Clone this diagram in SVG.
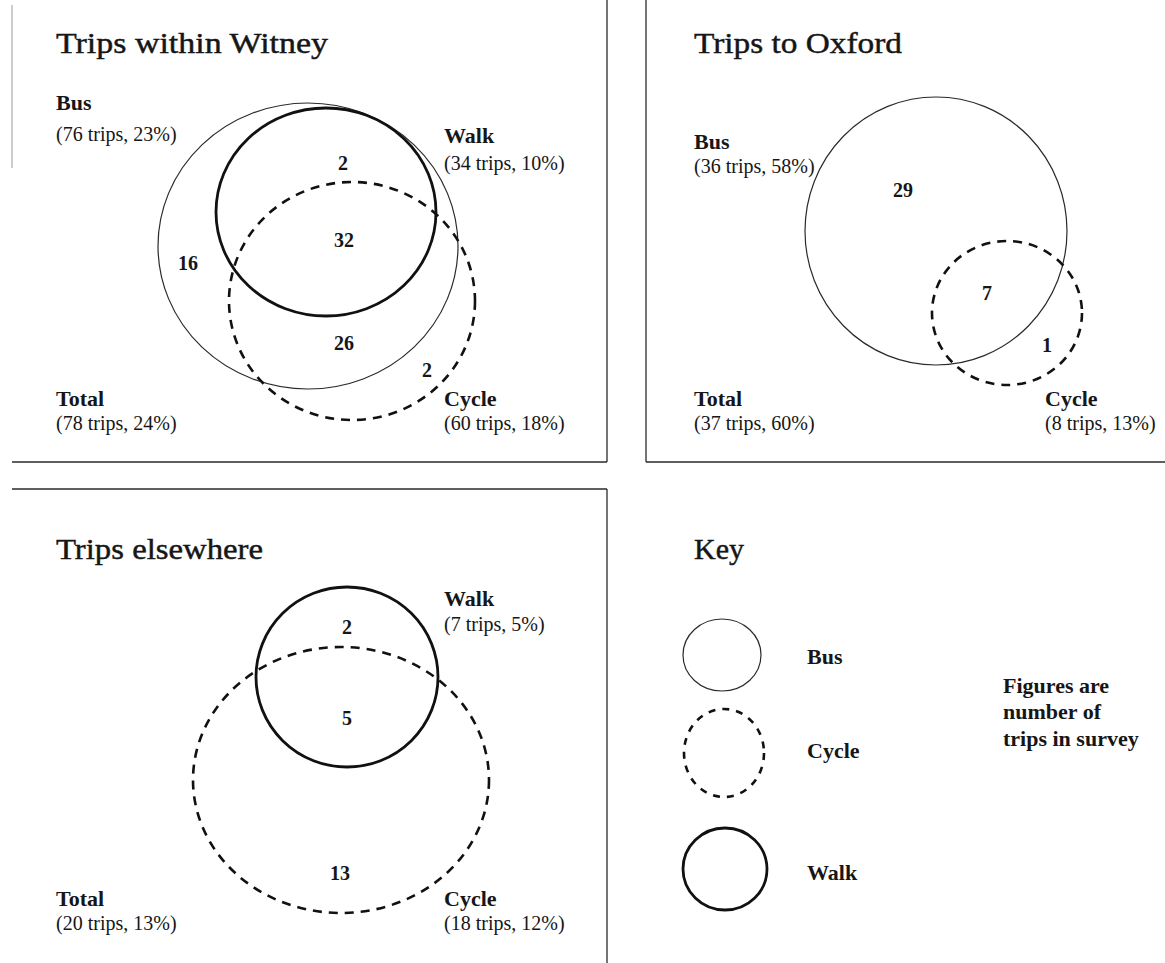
<svg xmlns="http://www.w3.org/2000/svg" width="1165" height="963" viewBox="0 0 1165 963">
  <style>
    text { font-family: "Liberation Serif", "Times New Roman", serif; fill: #161616; }
    .title { font-size: 30px; stroke: #161616; stroke-width: 0.45; }
    .lab { font-size: 22px; font-weight: bold; }
    .sub { font-size: 20px; }
    .num { font-size: 20px; font-weight: bold; text-anchor: middle; }
    .note { font-size: 22px; font-weight: bold; }
    .frame { stroke: #2a2a2a; stroke-width: 1.3; fill: none; }
    .frame-faint { stroke: #9a9a9a; stroke-width: 1; fill: none; }
    .bus { fill: none; stroke: #2a2a2a; stroke-width: 1.2; }
    .walk { fill: none; stroke: #111; stroke-width: 2.8; }
    .cycle { fill: none; stroke: #111; stroke-width: 2.6; stroke-dasharray: 9 7; }
    .cycle-key { fill: none; stroke: #111; stroke-width: 2.6; stroke-dasharray: 7 7; }
  </style>

  <rect width="1165" height="963" fill="#ffffff"/>

  <!-- panel borders -->
  <g id="frames">
    <line class="frame-faint" x1="12" y1="5" x2="12" y2="168"/>
    <line class="frame" x1="12" y1="462" x2="607" y2="462"/>
    <line class="frame" x1="607" y1="0" x2="607" y2="462"/>
    <line class="frame" x1="646" y1="0" x2="646" y2="462"/>
    <line class="frame" x1="646" y1="462" x2="1165" y2="462"/>
    <line class="frame" x1="12" y1="489" x2="607" y2="489"/>
    <line class="frame" x1="607" y1="489" x2="607" y2="963"/>
  </g>

  <!-- no connectors in this figure -->
  <g id="connectors"/>

  <!-- Trips within Witney -->
  <g id="witney">
    <text class="title" x="56" y="53" textLength="272" lengthAdjust="spacingAndGlyphs">Trips within Witney</text>
    <g id="witney-bus">
      <ellipse class="bus" cx="308" cy="246" rx="150" ry="143"/>
      <text class="lab" x="56" y="110">Bus</text>
      <text class="sub" x="56" y="141">(76 trips, 23%)</text>
    </g>
    <g id="witney-walk">
      <ellipse class="walk" cx="326" cy="212" rx="110" ry="104"/>
      <text class="lab" x="444" y="143">Walk</text>
      <text class="sub" x="444" y="170">(34 trips, 10%)</text>
    </g>
    <g id="witney-cycle">
      <ellipse class="cycle" cx="352" cy="301" rx="123" ry="119"/>
      <text class="lab" x="444" y="406">Cycle</text>
      <text class="sub" x="444" y="430">(60 trips, 18%)</text>
    </g>
    <g id="witney-total">
      <text class="lab" x="56" y="406">Total</text>
      <text class="sub" x="56" y="430">(78 trips, 24%)</text>
    </g>
    <g id="witney-counts">
      <text class="num" x="343" y="170">2</text>
      <text class="num" x="344" y="247">32</text>
      <text class="num" x="188" y="270">16</text>
      <text class="num" x="344" y="350">26</text>
      <text class="num" x="427" y="377">2</text>
    </g>
  </g>

  <!-- Trips to Oxford -->
  <g id="oxford">
    <text class="title" x="694" y="53" textLength="208" lengthAdjust="spacingAndGlyphs">Trips to Oxford</text>
    <g id="oxford-bus">
      <ellipse class="bus" cx="936" cy="231" rx="131" ry="134"/>
      <text class="lab" x="694" y="149">Bus</text>
      <text class="sub" x="694" y="173">(36 trips, 58%)</text>
    </g>
    <g id="oxford-cycle">
      <ellipse class="cycle" cx="1007" cy="313" rx="75" ry="72"/>
      <text class="lab" x="1045" y="406">Cycle</text>
      <text class="sub" x="1045" y="430">(8 trips, 13%)</text>
    </g>
    <g id="oxford-total">
      <text class="lab" x="694" y="406">Total</text>
      <text class="sub" x="694" y="430">(37 trips, 60%)</text>
    </g>
    <g id="oxford-counts">
      <text class="num" x="903" y="197">29</text>
      <text class="num" x="987" y="300">7</text>
      <text class="num" x="1047" y="352">1</text>
    </g>
  </g>

  <!-- Trips elsewhere -->
  <g id="elsewhere">
    <text class="title" x="56" y="559" textLength="207" lengthAdjust="spacingAndGlyphs">Trips elsewhere</text>
    <g id="elsewhere-walk">
      <ellipse class="walk" cx="347" cy="677" rx="91" ry="90"/>
      <text class="lab" x="444" y="606">Walk</text>
      <text class="sub" x="444" y="631">(7 trips, 5%)</text>
    </g>
    <g id="elsewhere-cycle">
      <ellipse class="cycle" cx="341" cy="780" rx="148" ry="133"/>
      <text class="lab" x="444" y="906">Cycle</text>
      <text class="sub" x="444" y="930">(18 trips, 12%)</text>
    </g>
    <g id="elsewhere-total">
      <text class="lab" x="56" y="906">Total</text>
      <text class="sub" x="56" y="930">(20 trips, 13%)</text>
    </g>
    <g id="elsewhere-counts">
      <text class="num" x="347" y="634">2</text>
      <text class="num" x="347" y="725">5</text>
      <text class="num" x="340" y="880">13</text>
    </g>
  </g>

  <!-- Key -->
  <g id="key">
    <text class="title" x="694" y="559">Key</text>
    <g id="key-bus">
      <ellipse class="bus" cx="722" cy="655" rx="39" ry="36"/>
      <text class="lab" x="807" y="664">Bus</text>
    </g>
    <g id="key-cycle">
      <ellipse class="cycle-key" cx="724" cy="753" rx="40" ry="44"/>
      <text class="lab" x="807" y="758">Cycle</text>
    </g>
    <g id="key-walk">
      <ellipse class="walk" cx="725" cy="869" rx="42" ry="41"/>
      <text class="lab" x="807" y="880">Walk</text>
    </g>
    <g id="key-note">
      <text class="note" x="1003" y="693">Figures are</text>
      <text class="note" x="1003" y="719">number of</text>
      <text class="note" x="1003" y="746">trips in survey</text>
    </g>
  </g>
</svg>
